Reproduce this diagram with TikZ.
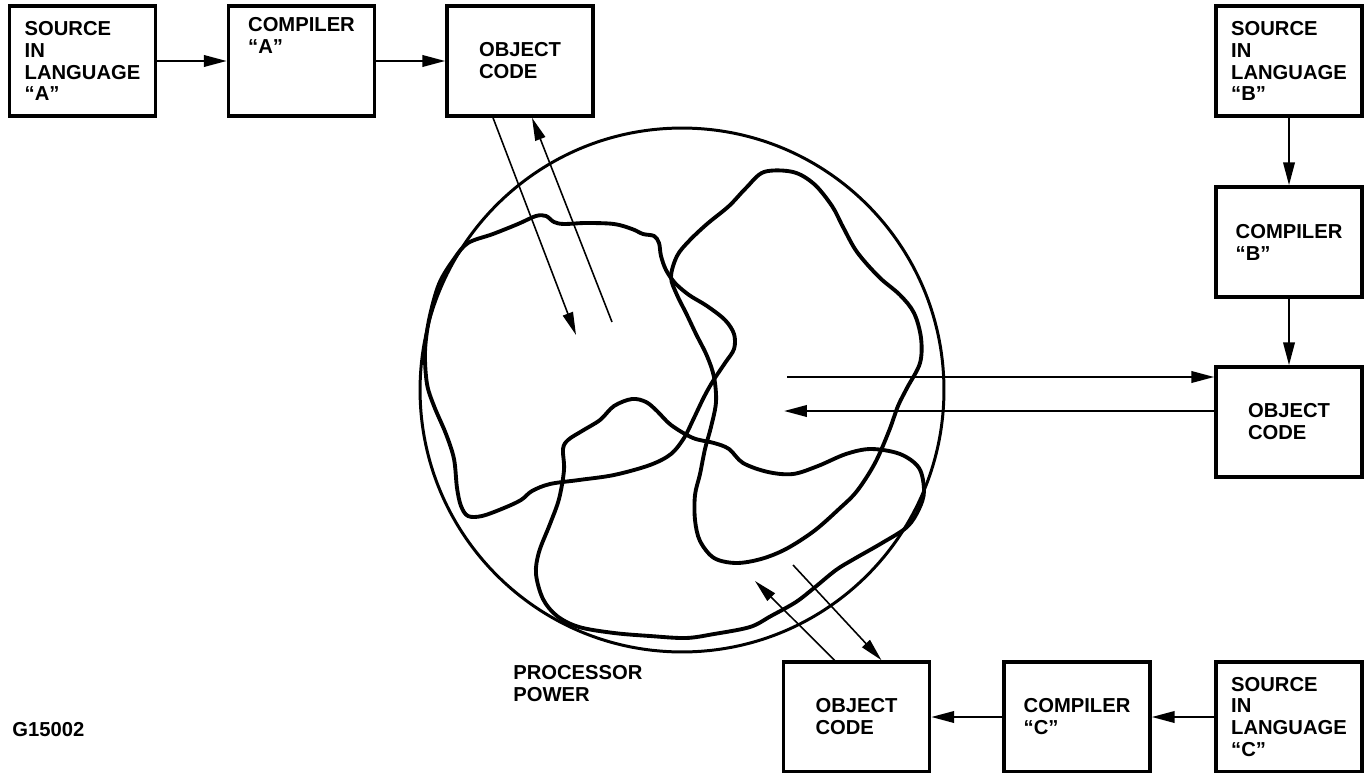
\documentclass[tikz,border=0pt]{standalone}
\usepackage{fontspec}
\setmainfont{Liberation Sans}
\usetikzlibrary{arrows.meta, positioning, calc}
\newcommand{\boxfont}{\fontsize{11.5}{12.5}\selectfont\bfseries}
\tikzset{
  box/.style={rectangle, draw, line width=2pt, minimum width=2.92cm,
    minimum height=2.2cm, inner sep=0pt, align=left, font=\boxfont},
  flow/.style={-{Triangle[length=13pt,width=6.5pt]}, line width=1.3pt},
  thinflow/.style={-{Triangle[length=13pt,width=6pt]}, line width=0.9pt},
  blob/.style={line width=2.2pt},
  caption/.style={inner sep=0pt, align=left, font=\boxfont}
}
\begin{document}
\begin{tikzpicture}[x=0.02cm, y=-0.02cm]
  \useasboundingbox (0,0) rectangle (1371,773);

  % language A row
  \node[box] (srcA) at (82.5,61) {SOURCE\\IN\\LANGUAGE\\``A''};
  \node[box] (compA) at (301.5,61) {COMPILER\\``A''\\\strut\\\strut};
  \node[box] (objA) at (520,61) {OBJECT\\CODE};

  % language B column
  \node[box] (srcB) at (1289,61) {SOURCE\\IN\\LANGUAGE\\``B''};
  \node[box] (compB) at (1289,242) {COMPILER\\``B''};
  \node[box] (objB) at (1289,422) {OBJECT\\CODE};

  % language C row
  \node[box] (srcC) at (1289,717) {SOURCE\\IN\\LANGUAGE\\``C''};
  \node[box] (compC) at (1077,717) {COMPILER\\``C''};
  \node[box] (objC) at (856.5,717) {OBJECT\\CODE};

  \draw[flow] (srcA) -- (compA);
  \draw[flow] (compA) -- (objA);
  \draw[flow] (srcB) -- (compB);
  \draw[flow] (compB) -- (objB);
  \draw[flow] (srcC) -- (compC);
  \draw[flow] (compC) -- (objC);

  % processor
  \node[draw, circle, line width=1.7pt, inner sep=0pt, minimum size=10.48cm] (cpu) at (682,390) {};

  % regions used by each language
  \draw[blob] plot[smooth cycle, tension=0.55] coordinates {
    (468,243) (493,234) (518,224) (536,216) (546,216) (554,222) (564,224)
    (586,223) (614,224) (632,229) (643,234) (654,236) (659,243) (661,256)
    (666,270) (675,283) (689,295) (707,306) (725,320) (734,334) (734,349)
    (725,363) (713,381) (704,397) (693,420) (684,438) (671,454) (650,465)
    (614,475) (579,480) (550,484) (532,491) (521,500) (504,508) (482,516)
    (468,516) (461,506) (457,488) (454,459) (446,434) (434,406) (427,384)
    (425,352) (429,320) (439,284) (454,259)};
  \draw[blob] plot[smooth cycle, tension=0.55] coordinates {
    (764,172) (793,172) (814,184) (832,206) (843,227) (857,252) (879,277)
    (900,295) (914,313) (921,338) (920,363) (907,388) (898,406) (889,431)
    (875,463) (857,491) (839,509) (814,531) (786,549) (761,559) (736,563)
    (714,558) (700,541) (695,520) (695,495) (700,474) (705,449) (711,427)
    (716,402) (714,377) (707,356) (696,334) (686,313) (677,295) (671,277)
    (677,256) (689,241) (707,224) (729,206) (746,188)};
  \draw[blob] plot[smooth cycle, tension=0.55] coordinates {
    (632,399) (646,402) (657,411) (671,425) (693,438) (714,443) (729,449)
    (743,463) (768,472) (793,474) (818,466) (846,454) (871,449) (900,454)
    (919,468) (924,491) (919,509) (907,527) (882,543) (854,559) (836,570)
    (814,588) (796,602) (771,616) (750,627) (714,634) (686,638) (650,636)
    (614,633) (579,627) (557,616) (543,599) (536,574) (539,552) (550,524)
    (559,499) (564,470) (563,449) (568,440) (582,431) (600,420) (614,406)};

  % object code in and out
  \coordinate (aIn) at (576,335);
  \coordinate (aOut) at (612,322);
  \draw[thinflow] ($(objA.south)+(-27,0)$) -- (aIn);
  \draw[thinflow] (aOut) -- ($(objA.south)+(12,0)$);

  \coordinate (bOut) at (787,377);
  \coordinate (bIn) at (784,411);
  \draw[flow] (bOut) -- (objB.west |- bOut);
  \draw[flow] (objB.west |- bIn) -- (bIn);

  \coordinate (cIn) at (755,581);
  \coordinate (cOut) at (793,565);
  \draw[thinflow] ($(objC.north)+(-22,0)$) -- (cIn);
  \draw[thinflow] (cOut) -- ($(objC.north)+(25,0)$);

  \node[caption, anchor=north west] (power) at (513,665) {PROCESSOR\\POWER};
  \node[caption, anchor=north west] (fig) at (12,722) {G15002};
\end{tikzpicture}
\end{document}
